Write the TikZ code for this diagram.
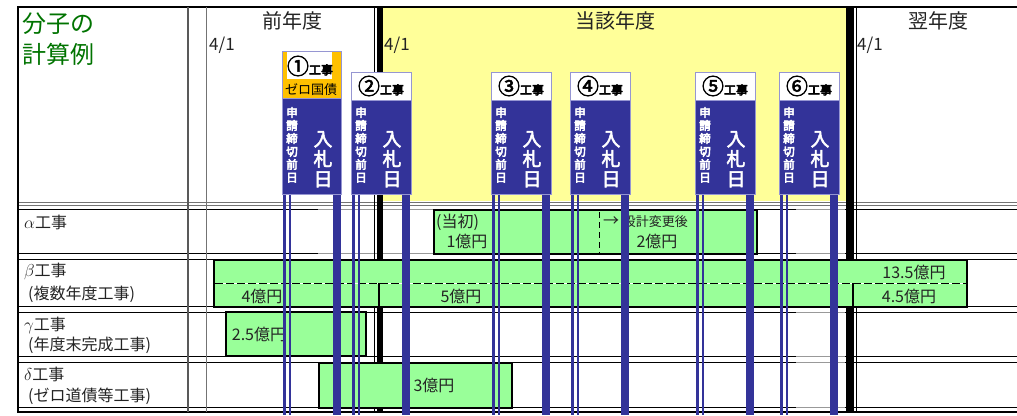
\documentclass[tikz,border=0pt]{standalone}
\usepackage{fontspec}
\setmainfont{Noto Sans CJK JP}
\newfontfamily\heavyjp[FakeBold=4.5]{Noto Sans CJK JP}
\newfontfamily\semijp[FakeBold=2.5]{Noto Sans CJK JP}
\definecolor{signblue}{RGB}{51,51,153}
\definecolor{signedge}{RGB}{150,150,210}
\definecolor{barg}{RGB}{153,255,153}
\definecolor{yel}{RGB}{255,255,153}
\definecolor{org}{RGB}{255,192,0}
\definecolor{dg}{RGB}{0,115,0}
\definecolor{txt}{RGB}{35,35,35}
\newcommand{\SignPoles}[1]{%
  \draw[thinpole] ({#1+2.5},194) -- ({#1+2.5},415);
  \draw[thinpole] ({#1+8},194) -- ({#1+8},415);
  \draw[thickpole] ({#1+55},194) -- ({#1+55},415);
}
\newcommand{\SignBody}[3]{% left, top of blue, name
  \path[signbody] (#1,#2) rectangle ({#1+60},194);
  \node[vsmall] (#3-v) at ({#1+10},107) {申\\請\\締\\切\\前\\日};
  \node[vbig] (#3-n) at ({#1+41},131) {入\\札\\日};
}
\newcommand{\SignHead}[3]{% left, glyph, name
  \path[signhead] (#1,72) rectangle ({#1+60},100);
  \node[headtxt] (#3-h) at ({#1+30},86) {#2{\fontsize{12}{12}\selectfont\heavyjp 工事}};
}
\begin{document}
\begin{tikzpicture}[x=1pt,y=-1pt,
  hline/.style={black, line width=1pt},
  gline/.style={black!40, line width=1pt},
  bar/.style={draw=black, line width=2pt, fill=barg},
  thickpole/.style={signblue, line width=8.5pt},
  thinpole/.style={signblue, line width=2.2pt},
  signbody/.style={fill=signblue, draw=signedge, line width=0.8pt},
  signhead/.style={fill=white, draw=signedge, line width=0.8pt},
  headtxt/.style={font=\fontsize{22}{22}\selectfont\semijp, text=black, inner sep=0pt},
  vsmall/.style={text=white, font=\fontsize{11.5}{13}\selectfont\heavyjp, align=center, anchor=north, inner sep=0pt},
  vbig/.style={text=white, font=\fontsize{19}{20}\selectfont\semijp, align=center, anchor=north, inner sep=0pt},
  yeartxt/.style={font=\fontsize{20}{22}\selectfont, text=txt, inner sep=0pt},
  datetxt/.style={font=\fontsize{17}{18}\selectfont, text=txt, anchor=west, inner sep=0pt},
  rowtxt/.style={font=\fontsize{16}{18}\selectfont, text=txt, anchor=west, inner sep=0pt},
  amt/.style={font=\fontsize{16}{18}\selectfont, text=txt, inner sep=0pt},
  titletxt/.style={font=\fontsize{24}{26}\selectfont, text=dg, anchor=west, inner sep=0pt}
]
\useasboundingbox (0,0) rectangle (1017,415);
% yellow current year
\fill[yel] (383,8) rectangle (846,201);
% horizontal grid
\draw[line width=2.5pt] (18,7) -- (1017,7);
\draw[black!55, line width=1pt] (18,202) -- (1017,202);
\draw[black!55, line width=1pt] (18,205) -- (1017,205);
\foreach \yy in {209,253,259,306,312,356,362,407}
  \draw[hline] (18,\yy) -- (1017,\yy);
\draw[line width=2pt] (18,412) -- (1017,412);
\foreach \yy in {209,253}
  \draw[gline] (318,\yy) -- (433,\yy);
\foreach \yy in {209,253,312,356,362,407}
  \draw[gline] (796,\yy) -- (845,\yy);
% vertical grid
\draw[line width=2pt] (18,6) -- (18,413);
\draw[black!65, line width=1.5pt] (188,7) -- (188,412);
\draw[black!55, line width=1pt] (206,7) -- (206,412);
\draw[line width=1pt] (374,7) -- (374,412);
\fill[black] (377,7) rectangle (383,412);
\fill[black] (846,7) rectangle (854,412);
\draw[line width=1pt] (856.5,7) -- (856.5,412);
% titles
\node[titletxt] (t1) at (22,23.5) {分子の};
\node[titletxt] (t2) at (22,54) {計算例};
\node[yeartxt] (y1) at (292,21) {前年度};
\node[yeartxt] (y2) at (615,21) {当該年度};
\node[yeartxt] (y3) at (938,21) {翌年度};
\node[datetxt] (d1) at (209,45) {4/1};
\node[datetxt] (d2) at (384,45) {4/1};
\node[datetxt] (d3) at (857,45) {4/1};
% row labels
\node[rowtxt] (ra) at (24,222) {$\alpha$工事};
\node[rowtxt] (rb) at (24,271) {$\beta$工事};
\node[rowtxt] (rb2) at (28,294) {(複数年度工事)};
\node[rowtxt] (rc) at (24,325) {$\gamma$工事};
\node[rowtxt] (rc2) at (28,345) {(年度末完成工事)};
\node[rowtxt] (rd) at (24,374) {$\delta$工事};
\node[rowtxt] (rd2) at (28,396) {(ゼロ道債等工事)};
% bars
\path[bar] (434,210) rectangle (757,254);
\draw[line width=1pt, dash pattern=on 6pt off 4pt] (599,212) -- (599,253);
\node[amt, anchor=west] (a1) at (436,222) {(当初)};
\node[amt] (a2) at (467,241) {1億円};
\node[amt, anchor=west] (a3) at (603,222) {→ {\fontsize{13}{14}\selectfont 設計変更後}};
\node[amt] (a4) at (657,241) {2億円};
\path[bar] (214,260) rectangle (967,307);
\draw[white, line width=1pt] (215,283) -- (966,283);
\draw[black, line width=1pt, dash pattern=on 8pt off 3pt] (215,283) -- (966,283);
\draw[line width=1.5pt] (379,283) -- (379,306);
\draw[line width=1.5pt] (853,283) -- (853,306);
\node[amt] (b1) at (262,296) {4億円};
\node[amt] (b2) at (461,296) {5億円};
\node[amt] (b3) at (914,272) {13.5億円};
\node[amt] (b4) at (909,296) {4.5億円};
\path[bar] (226,312) rectangle (366,356);
\node[amt] (c1) at (259,334) {2.5億円};
\path[bar] (319,363) rectangle (512,408);
\node[amt] (e1) at (434,385) {3億円};
% poles
\SignPoles{282}
\SignPoles{351}
\SignPoles{491}
\SignPoles{570}
\SignPoles{695}
\SignPoles{779}
% sign 1 (zero national debt)
\path[fill=org, draw=signedge, line width=0.8pt] (282,51) rectangle (341,98);
\fill[white] (287,52) rectangle (332,79);
\node[headtxt] (s1-h) at (310,66) {①{\fontsize{12}{12}\selectfont\heavyjp 工事}};
\node[font=\fontsize{13}{14}\selectfont, text=black, inner sep=0pt] (s1-z) at (311,90) {ゼロ国債};
\path[signbody] (282,98) rectangle (341,194);
\node[vsmall] (s1-v) at (292,107) {申\\請\\締\\切\\前\\日};
\node[vbig] (s1-n) at (323,131) {入\\札\\日};
% other signs
\SignHead{351}{②}{s2}
\SignBody{351}{100}{s2}
\SignHead{491}{③}{s3}
\SignBody{491}{100}{s3}
\SignHead{570}{④}{s4}
\SignBody{570}{100}{s4}
\SignHead{695}{⑤}{s5}
\SignBody{695}{100}{s5}
\SignHead{779}{⑥}{s6}
\SignBody{779}{100}{s6}
\end{tikzpicture}
\end{document}
